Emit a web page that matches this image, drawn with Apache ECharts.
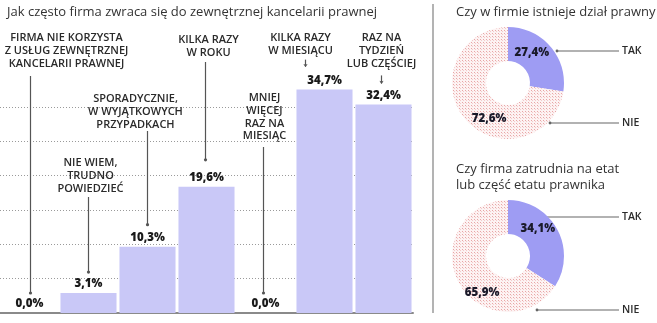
<!DOCTYPE html>
<html><head><meta charset="utf-8">
<script src="https://cdn.jsdelivr.net/npm/echarts@6/dist/echarts.min.js"></script>
<style>html,body{margin:0;padding:0;background:#fff}#c{width:657px;height:323px}</style>
</head><body><div id="c"></div>
<script>
// ---- data ----
const chartTitle = 'Jak często firma zwraca się do zewnętrznej kancelarii prawnej';
const categoryLines = [
  ['FIRMA NIE KORZYSTA', 'Z USŁUG ZEWNĘTRZNEJ', 'KANCELARII PRAWNEJ'],
  ['NIE WIEM,', 'TRUDNO', 'POWIEDZIEĆ'],
  ['SPORADYCZNIE,', 'W WYJĄTKOWYCH', 'PRZYPADKACH'],
  ['KILKA RAZY', 'W ROKU'],
  ['MNIEJ', 'WIĘCEJ', 'RAZ NA', 'MIESIĄC'],
  ['KILKA RAZY', 'W MIESIĄCU'],
  ['RAZ NA', 'TYDZIEŃ', 'LUB CZĘŚCIEJ']
];
const categories = categoryLines.map(l => l.join(' '));
const values = [0.0, 3.1, 10.3, 19.6, 0.0, 34.7, 32.4];

const pie1Title = 'Czy w firmie istnieje dział prawny';
const pie1Names = ['TAK', 'NIE'];
const pie1Values = [27.4, 72.6];

const pie2Title = 'Czy firma zatrudnia na etat\nlub część etatu prawnika';
const pie2Names = ['TAK', 'NIE'];
const pie2Values = [34.1, 65.9];

// ---- layout (pixels) ----
const annotLayout = [
  {dx: 37, y: 38, top: 76, gap: 20, dot: true, lx: 1},
  {dx: 2, y: 163, top: 197, gap: 21, dot: true, lx: 0},
  {dx: -12, y: 99, top: 131, gap: 22, dot: true, lx: 0},
  {dx: 2, y: 40, top: 62, gap: 27, dot: true, lx: -1},
  {dx: -1, y: 98, top: 147, gap: 20, dot: true, lx: -2},
  {dx: -24, y: 38, top: null, gap: 23, dot: false, lx: -19, len: 7},
  {dx: -2, y: 38, top: null, gap: 21, dot: false, lx: -2, len: 8}
];
const pieLabelOffsets = [[[-8, -3], [13, 8]], [[-7, -7], [11, 17]]];
const LH = 12.7;

const fmt = v => v.toFixed(1).replace('.', ',') + '%';

// dotted pink pattern
const pc = document.createElement('canvas');
pc.width = 3; pc.height = 3;
const px = pc.getContext('2d');
px.fillStyle = '#fdf3f3'; px.fillRect(0, 0, 3, 3);
px.fillStyle = '#e8a6a6'; px.fillRect(0, 0, 1, 1);
px.fillStyle = '#f3cccc'; px.fillRect(1, 1, 1, 1);
const pinkPattern = {image: pc, repeat: 'repeat'};

const PURPLE = '#9e9cf3';
const BAR = '#c9c8f7';
const FONT = '"Open Sans", sans-serif';

function pieSeries(center, names, vals, offs) {
  return {
    type: 'pie', center: center, radius: [22, 56], startAngle: 90, clockwise: true,
    silent: true, animation: false,
    label: {show: true, position: 'inside', formatter: p => fmt(p.value),
      fontFamily: FONT, fontSize: 11.5, fontWeight: 800, color: '#1a1a2a'},
    labelLine: {show: false},
    data: names.map((n, i) => ({name: n, value: vals[i],
      label: {offset: offs[i]},
      itemStyle: {color: i === 0 ? PURPLE : pinkPattern}}))
  };
}

const chart = echarts.init(document.getElementById('c'), null, {renderer: 'canvas'});
chart.setOption({
  animation: false,
  title: [
    {text: chartTitle, left: 2, top: 1, textStyle: {fontFamily: FONT, fontSize: 13, fontWeight: 'normal', color: '#333'}},
    {text: pie1Title, left: 451, top: 1, textStyle: {fontFamily: FONT, fontSize: 13, fontWeight: 'normal', color: '#333'}},
    {text: pie2Title, left: 451, top: 156, textStyle: {fontFamily: FONT, fontSize: 13, fontWeight: 'normal', color: '#333', lineHeight: 16}}
  ],
  grid: {left: 0, right: 244, top: 107, bottom: 10, containLabel: false},
  xAxis: {type: 'category', data: categories,
    axisLine: {lineStyle: {color: '#8a8a8a', width: 2}},
    axisTick: {show: false}, axisLabel: {show: false}},
  yAxis: {type: 'value', min: 0, max: 32, interval: 16 / 3,
    axisLabel: {show: false}, axisLine: {show: false}, axisTick: {show: false},
    splitLine: {lineStyle: {color: '#9a9a9a', width: 1, type: [1, 2]}}},
  series: [
    {type: 'bar', data: values, barCategoryGap: '5%', clip: false, silent: true,
      itemStyle: {color: BAR},
      label: {show: true, position: 'top', distance: 3, formatter: p => fmt(p.value),
        fontFamily: FONT, fontSize: 11.5, fontWeight: 800, color: '#1a1a1a'}},
    pieSeries([508, 83], pie1Names, pie1Values, pieLabelOffsets[0]),
    pieSeries([508, 256], pie2Names, pie2Values, pieLabelOffsets[1])
  ]
});

// annotations
const g = [];
categoryLines.forEach((lines, i) => {
  const L = annotLayout[i];
  const cx = chart.convertToPixel({xAxisIndex: 0}, i);
  const barTop = chart.convertToPixel({yAxisIndex: 0}, values[i]);
  g.push({type: 'text', silent: true, style: {text: lines.join('\n'), x: cx + L.dx, y: L.y - LH / 2,
    align: 'center', verticalAlign: 'top', lineHeight: LH, fill: '#2a2a2a',
    font: '600 11px ' + FONT}});
  const lx = cx + L.lx;
  const bottom = barTop - L.gap;
  const top = L.top !== null ? L.top : bottom - L.len;
  g.push({type: 'line', silent: true, shape: {x1: lx, y1: top, x2: lx, y2: bottom},
    style: {stroke: '#555', lineWidth: 1.2}});
  if (L.dot) {
    g.push({type: 'circle', silent: true, shape: {cx: lx, cy: bottom, r: 1.6}, style: {fill: '#555'}});
  } else {
    g.push({type: 'polyline', silent: true, shape: {points: [[lx - 1.5, bottom - 2.5], [lx, bottom], [lx + 1.5, bottom - 2.5]]},
      style: {stroke: '#555', lineWidth: 1, fill: null}});
  }
});
// separator
g.push({type: 'line', silent: true, shape: {x1: 433, y1: 4, x2: 433, y2: 313}, style: {stroke: '#9a9a9a', lineWidth: 1.5}});
// pie callouts
const callouts = [
  {x1: 557, y: 51, t: pie1Names[0]}, {x1: 550, y: 123, t: pie1Names[1]},
  {x1: 543, y: 217, t: pie2Names[0]}, {x1: 537, y: 310, t: pie2Names[1]}
];
callouts.forEach(c => {
  g.push({type: 'line', silent: true, shape: {x1: c.x1, y1: c.y, x2: 619, y2: c.y}, style: {stroke: '#666', lineWidth: 1.2}});
  g.push({type: 'circle', silent: true, shape: {cx: c.x1, cy: c.y, r: 1.4}, style: {fill: '#666'}});
  g.push({type: 'text', silent: true, style: {text: c.t, x: 622, y: c.y, align: 'left', verticalAlign: 'middle',
    fill: '#2a2a2a', font: '600 10.5px ' + FONT}});
});
chart.setOption({graphic: g});
</script></body></html>
